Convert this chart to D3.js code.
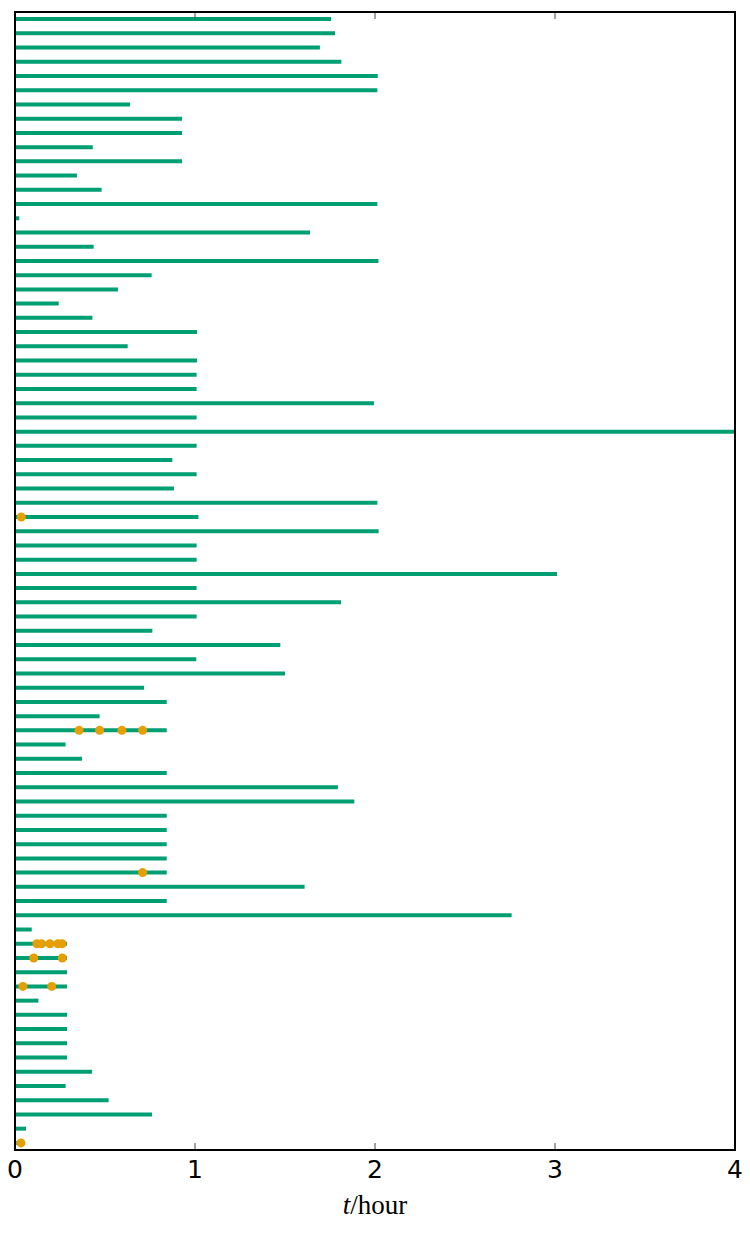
<!doctype html>
<html>
  <head>
    <script src="https://d3js.org/d3.v7.min.js"></script>
    <style>
      body { margin: 0; background: #fff; }
    </style>
  </head>
  <body>
    <script type="text/javascript">
      // duration of each row (hours), top row first
      var rowEnds = [
        1.756, 1.778, 1.694, 1.813, 2.015, 2.013, 0.639, 0.928, 0.928, 0.432,
        0.928, 0.344, 0.481, 2.013, 0.024, 1.639, 0.437, 2.019, 0.759, 0.572,
        0.243, 0.430, 1.011, 0.626, 1.011, 1.009, 1.009, 1.994, 1.009, 4.000,
        1.009, 0.874, 1.009, 0.883, 2.013, 1.019, 2.020, 1.009, 1.009, 3.011,
        1.009, 1.811, 1.009, 0.763, 1.474, 1.007, 1.500, 0.717, 0.843, 0.470,
        0.843, 0.281, 0.372, 0.843, 1.794, 1.885, 0.843, 0.843, 0.843, 0.843,
        0.843, 1.609, 0.843, 2.759, 0.093, 0.289, 0.289, 0.289, 0.289, 0.130,
        0.289, 0.289, 0.289, 0.289, 0.428, 0.281, 0.520, 0.761, 0.061, 0.010
      ];

      // event markers: row index and time (hours)
      var dotRows  = [35, 50, 50, 50, 50, 60, 65, 65, 65, 65, 65, 66, 66, 68, 68, 79];
      var dotTimes = [0.035, 0.356, 0.470, 0.594, 0.709, 0.709,
                      0.122, 0.147, 0.194, 0.239, 0.261,
                      0.104, 0.263, 0.044, 0.204, 0.033];

      var xTicks = [0, 1, 2, 3, 4];

      /********** layout **********/
      var width = 750, height = 1238;
      var mLeft = 15, mRight = 735, mTop = 12, mBottom = 1150;
      var green = '#009E73', orange = '#E69F00';

      var x = d3.scaleLinear().domain([0, 4]).range([mLeft, mRight]);
      var y = d3.scaleLinear().domain([-0.5, rowEnds.length - 0.5]).range([mTop, mBottom]);

      var svg = d3.select('body').append('svg')
                  .attr('width', width)
                  .attr('height', height);

      // rows
      svg.append('g').selectAll('line')
         .data(rowEnds)
         .enter().append('line')
           .attr('x1', x(0))
           .attr('x2', d => x(d))
           .attr('y1', (d, i) => y(i))
           .attr('y2', (d, i) => y(i))
           .style('stroke', green)
           .style('stroke-width', 4);

      // dots
      svg.append('g').selectAll('circle')
         .data(dotTimes)
         .enter().append('circle')
           .attr('cx', d => x(d))
           .attr('cy', (d, i) => y(dotRows[i]))
           .attr('r', 4.5)
           .style('fill', orange);

      // ticks, inward, top and bottom
      var tickLen = 7;
      var ticksG = svg.append('g');
      ticksG.selectAll('.tb').data(xTicks).enter().append('line')
        .attr('x1', d => x(d)).attr('x2', d => x(d))
        .attr('y1', mBottom).attr('y2', mBottom - tickLen)
        .style('stroke', '#444').style('stroke-width', 1);
      ticksG.selectAll('.tt').data(xTicks).enter().append('line')
        .attr('x1', d => x(d)).attr('x2', d => x(d))
        .attr('y1', mTop).attr('y2', mTop + tickLen)
        .style('stroke', '#444').style('stroke-width', 1);

      // frame
      svg.append('rect')
        .attr('x', mLeft).attr('y', mTop)
        .attr('width', mRight - mLeft).attr('height', mBottom - mTop)
        .style('fill', 'none').style('stroke', '#000').style('stroke-width', 2);

      // tick labels
      svg.append('g').selectAll('text')
        .data(xTicks)
        .enter().append('text')
          .attr('x', d => x(d))
          .attr('y', mBottom + 28)
          .attr('text-anchor', 'middle')
          .style('font-family', 'DejaVu Sans')
          .style('font-size', '25px')
          .text(d => d);

      // axis label
      var lab = svg.append('text')
        .attr('x', (mLeft + mRight) / 2)
        .attr('y', mBottom + 64)
        .attr('text-anchor', 'middle')
        .style('font-family', 'Liberation Serif, DejaVu Serif, serif')
        .style('font-size', '27px');
      lab.append('tspan').style('font-style', 'italic').text('t');
      lab.append('tspan').text('/hour');
    </script>
  </body>
</html>
